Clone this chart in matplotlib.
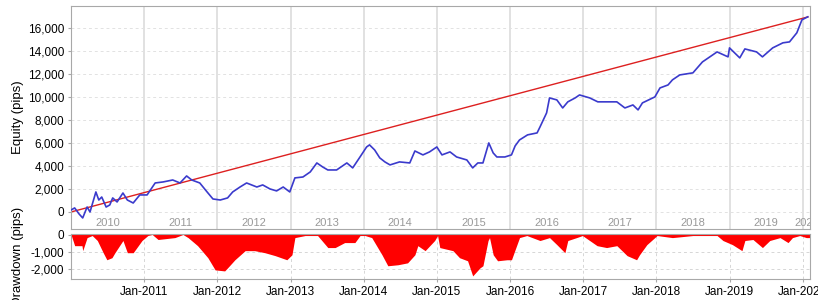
import matplotlib
matplotlib.use("Agg")
import matplotlib.pyplot as plt
from matplotlib.ticker import FuncFormatter, FixedLocator
import numpy as np

plt.rcParams['font.family'] = ['Liberation Sans', 'DejaVu Sans']

# Equity curve (decimal year, pips)
eq_t = [2010.00, 2010.05, 2010.11, 2010.16, 2010.22, 2010.26, 2010.34, 2010.38, 2010.42, 2010.48,
        2010.53, 2010.57, 2010.63, 2010.71, 2010.77, 2010.85, 2010.94, 2011.04, 2011.15, 2011.26,
        2011.39, 2011.49, 2011.58, 2011.65, 2011.76, 2011.86, 2011.94, 2012.04, 2012.14, 2012.21,
        2012.31, 2012.40, 2012.54, 2012.62, 2012.72, 2012.81, 2012.90, 2012.99, 2013.06, 2013.17,
        2013.27, 2013.36, 2013.44, 2013.51, 2013.63, 2013.77, 2013.85, 2013.95, 2014.04, 2014.08,
        2014.15, 2014.22, 2014.29, 2014.36, 2014.49, 2014.63, 2014.70, 2014.81, 2014.90, 2015.00,
        2015.07, 2015.18, 2015.27, 2015.41, 2015.49, 2015.56, 2015.63, 2015.71, 2015.77, 2015.82,
        2015.93, 2016.02, 2016.07, 2016.13, 2016.24, 2016.37, 2016.41, 2016.50, 2016.54, 2016.64,
        2016.72, 2016.79, 2016.89, 2016.95, 2017.09, 2017.20, 2017.36, 2017.46, 2017.57, 2017.68,
        2017.75, 2017.81, 2017.98, 2018.05, 2018.16, 2018.22, 2018.32, 2018.50, 2018.63, 2018.83,
        2018.98, 2019.00, 2019.14, 2019.21, 2019.37, 2019.45, 2019.59, 2019.73, 2019.82, 2019.92,
        2019.99, 2020.07]
eq_v = [170, 350, -170, -520, 430, 0, 1740, 1040, 1300, 430,
        610, 1220, 870, 1650, 1040, 780, 1480, 1480, 2520, 2610,
        2780, 2520, 3130, 2780, 2520, 1740, 1130, 1040, 1220, 1740,
        2170, 2520, 2170, 2350, 2000, 1830, 2170, 1740, 2960, 3040,
        3480, 4260, 3910, 3650, 3650, 4260, 3830, 4780, 5650, 5830,
        5390, 4700, 4350, 4090, 4350, 4260, 5300, 4960, 5220, 5650,
        4960, 5220, 4780, 4520, 3830, 4260, 4260, 6000, 5130, 4780,
        4780, 4960, 5740, 6260, 6700, 6870, 7390, 8610, 9910, 9740,
        9040, 9570, 9910, 10170, 9910, 9570, 9570, 9570, 9040, 9300,
        8870, 9480, 10000, 10780, 11040, 11480, 11910, 12090, 13040, 13910,
        13480, 14260, 13390, 14170, 13910, 13480, 14260, 14700, 14780, 15570,
        16700, 16960]

# Straight reference line (start, end)
ref_t = [2010.00, 2020.07]
ref_v = [0, 16950]

# Drawdown (decimal year, pips)
dd_t = [2010.00, 2010.05, 2010.15, 2010.16, 2010.22, 2010.29, 2010.36, 2010.44, 2010.49, 2010.56,
        2010.60, 2010.71, 2010.77, 2010.85, 2010.97, 2011.05, 2011.11, 2011.19, 2011.42, 2011.53,
        2011.60, 2011.73, 2011.87, 2011.97, 2012.10, 2012.14, 2012.24, 2012.38, 2012.51, 2012.65,
        2012.79, 2012.95, 2013.02, 2013.06, 2013.20, 2013.37, 2013.51, 2013.61, 2013.74, 2013.88,
        2013.95, 2014.02, 2014.11, 2014.25, 2014.33, 2014.47, 2014.60, 2014.70, 2014.74, 2014.84,
        2014.97, 2015.01, 2015.04, 2015.22, 2015.31, 2015.42, 2015.49, 2015.59, 2015.63, 2015.70,
        2015.72, 2015.77, 2015.83, 2015.96, 2016.02, 2016.07, 2016.13, 2016.23, 2016.41, 2016.54,
        2016.64, 2016.75, 2016.79, 2016.91, 2016.99, 2017.19, 2017.32, 2017.46, 2017.60, 2017.73,
        2017.77, 2017.87, 2018.01, 2018.22, 2018.50, 2018.83, 2018.91, 2019.04, 2019.17, 2019.21,
        2019.32, 2019.45, 2019.55, 2019.69, 2019.80, 2019.86, 2019.96, 2020.05, 2020.10]
dd_v = [0, -650, -650, -940, -180, -60, -350, -1060, -1470, -1350,
        -1060, -350, -1060, -1060, -350, -60, 0, -290, -180, 0,
        -180, -650, -1350, -2060, -2120, -1940, -1470, -940, -940, -1060,
        -1230, -1470, -1180, -180, -60, -60, -760, -760, -470, -470,
        -60, -60, -180, -1180, -1820, -1760, -1650, -1180, -650, -940,
        -350, -60, -760, -940, -1350, -1530, -2410, -1940, -1820, -350,
        -180, -1180, -1530, -1470, -1470, -880, -180, -60, -350, -180,
        -590, -1060, -350, -180, -60, -650, -760, -650, -1230, -1470,
        -1180, -590, -60, -180, -60, -60, -350, -590, -940, -350,
        -290, -760, -350, -180, -470, -180, -60, -180, -180]

years = list(range(2010, 2021))
jan_ticks = list(range(2011, 2021))
jan_labels = [f"Jan-{y}" for y in jan_ticks]
eq_yticks = [0, 2000, 4000, 6000, 8000, 10000, 12000, 14000, 16000]
dd_yticks = [0, -1000, -2000]

XMIN, XMAX = 2010.0, 2020.1
comma = FuncFormatter(lambda v, p: f"{int(v):,}")
spine_col = '#a8a8a8'

fig = plt.figure(figsize=(8.18, 3.0), dpi=100)
ax1 = fig.add_axes([71/818, 1 - 229/300, 739/818, 223/300])
ax2 = fig.add_axes([71/818, 1 - 279/300, 739/818, 45/300])

# --- top panel ---
for y in jan_ticks:
    ax1.axvline(y, color='#dedede', lw=1.3, zorder=0)
for v in eq_yticks:
    ax1.axhline(v, color='#e2e2e2', lw=0.7, ls=(0, (3, 3)), zorder=0)
ax1.plot(ref_t, ref_v, color='#dd2020', lw=1.0, zorder=2)
ax1.plot(eq_t, eq_v, color='#3a3acc', lw=1.2, zorder=3)
ax1.set_xlim(XMIN, XMAX)
ax1.set_ylim(-1480, 17900)
ax1.set_yticks(eq_yticks)
ax1.yaxis.set_major_formatter(comma)
ax1.set_xticks([])
ax1.tick_params(axis='y', labelsize=8.5, length=2, color=spine_col, pad=3)
ax1.set_ylabel("Equity (pips)", fontsize=9.5)
for y in years:
    lo, hi = y, min(y + 1, XMAX)
    ax1.text((lo + hi) / 2, -1000, str(y), ha='center', va='center',
             fontsize=8, color='#999999', clip_on=True)
for s in ax1.spines.values():
    s.set_color(spine_col)

# --- bottom panel ---
for y in jan_ticks:
    ax2.axvline(y, color='#d6d6d6', lw=0.7, ls=(0, (3, 3)), zorder=0)
for v in dd_yticks[1:]:
    ax2.axhline(v, color='#d6d6d6', lw=0.7, ls=(0, (3, 3)), zorder=0)
ax2.fill_between(dd_t, dd_v, 0, color='#ff0000', lw=0, zorder=2)
ax2.set_xlim(XMIN, XMAX)
ax2.set_ylim(-2590, 30)
ax2.set_yticks(dd_yticks)
ax2.yaxis.set_major_formatter(comma)
ax2.xaxis.set_major_locator(FixedLocator(jan_ticks))
ax2.set_xticklabels(jan_labels)
ax2.tick_params(axis='both', labelsize=8.5, length=2, color=spine_col, pad=3)
ax2.set_ylabel("Drawdown (pips)", fontsize=9.5)
for s in ax2.spines.values():
    s.set_color(spine_col)

ax1.yaxis.set_label_coords(-0.063, 0.5)
ax2.yaxis.set_label_coords(-0.063, 0.5)

fig.savefig("out.png", dpi=100)
